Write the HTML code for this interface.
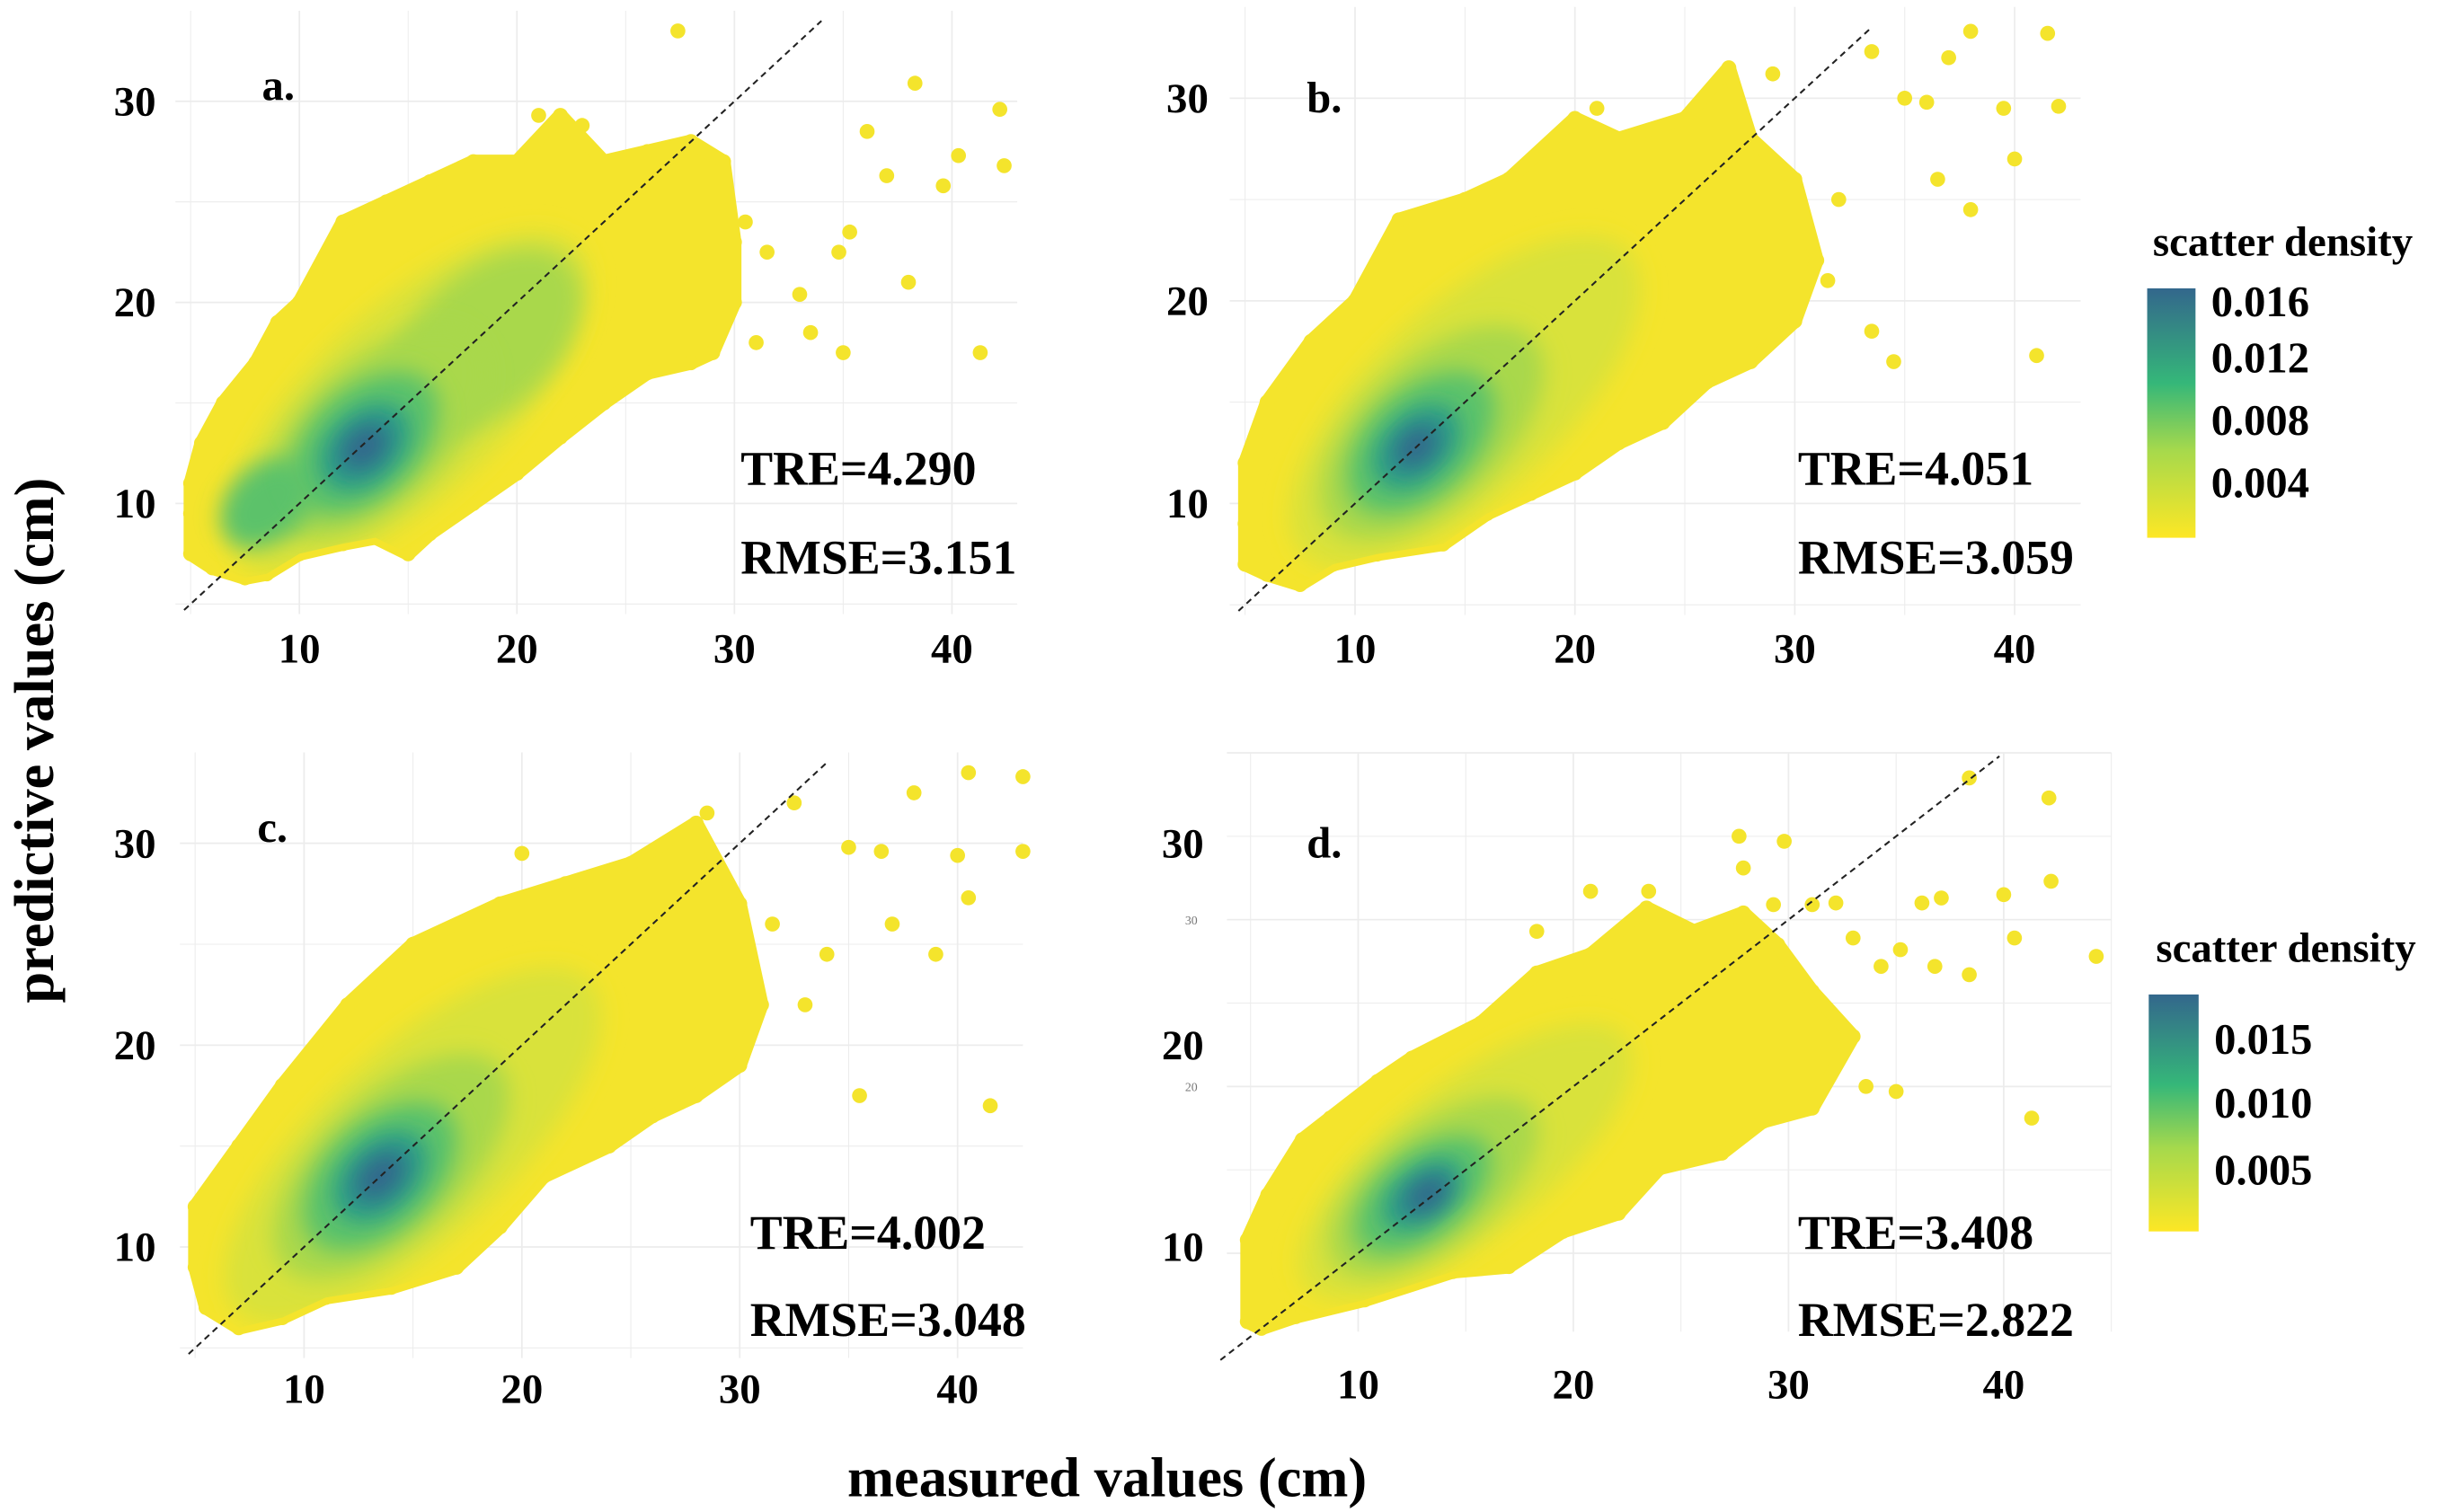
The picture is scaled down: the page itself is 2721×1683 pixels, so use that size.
<!DOCTYPE html>
<html><head><meta charset="utf-8"><style>
html,body{margin:0;padding:0;background:#fff;}
svg{display:block;font-family:"Liberation Serif",serif;font-weight:bold;}
</style></head><body>
<svg id="fig" xmlns="http://www.w3.org/2000/svg" width="2721" height="1683" viewBox="0 0 1568 970" preserveAspectRatio="none">
<defs>
<filter id="blur" x="-50%" y="-50%" width="200%" height="200%"><feGaussianBlur stdDeviation="7"/></filter>
<linearGradient id="cbar" x1="0" y1="1" x2="0" y2="0">
<stop offset="0" stop-color="#fde725"/><stop offset="0.35" stop-color="#a6d94c"/><stop offset="0.62" stop-color="#35b779"/><stop offset="1" stop-color="#33678c"/>
</linearGradient>
</defs>
<g id="panels"></g>
<text transform="translate(34,475) rotate(-90)" text-anchor="middle" font-size="36">predictive values (cm)</text>
<text x="710" y="960" text-anchor="middle" font-size="36">measured values (cm)</text>
<g>
<text x="1464" y="164" text-anchor="middle" font-size="27">scatter density</text>
<rect x="1377" y="185" width="31" height="160" fill="url(#cbar)"/>
<text x="1418" y="203" font-size="28">0.016</text>
<text x="1418" y="239" font-size="28">0.012</text>
<text x="1418" y="279" font-size="28">0.008</text>
<text x="1418" y="319" font-size="28">0.004</text>
</g>
<g>
<text x="1466" y="617" text-anchor="middle" font-size="27">scatter density</text>
<rect x="1378" y="638" width="32" height="152" fill="url(#cbar)"/>
<text x="1420" y="676" font-size="28">0.015</text>
<text x="1420" y="717" font-size="28">0.010</text>
<text x="1420" y="760" font-size="28">0.005</text>
</g>
</svg>
<script>
// ---- data (measured, predictive) ----
const xTicks = [10, 20, 30, 40];
const yTicks = [10, 20, 30];
const densityColors = ['#d9e23a', '#a9d84c', '#5cc26a', '#2a9b88', '#33678c'];
const statsA = ['TRE=4.290', 'RMSE=3.151'];
const statsB = ['TRE=4.051', 'RMSE=3.059'];
const statsC = ['TRE=4.002', 'RMSE=3.048'];
const statsD = ['TRE=3.408', 'RMSE=2.822'];

const envA = [[5,9.5],[5,7.5],[6,6.8],[7.5,6.3],[8.5,6.5],[10,7.5],[12,8],[13.5,8.3],[15,7.5],[16,8.5],[18,10],[20,11.5],[22,13.3],[24,15],[26,16.5],[28,17],[29,17.5],[30,20],[30,23],[29.5,27],[28,28],[26,27.5],[24,27],[22,29.3],[20,27],[18,27],[16,26],[14,25],[12,24],[10,20],[9,19],[8,17],[6.5,15],[5.5,13],[5,11]];
const envB = [[5,9],[5,7],[6,6.5],[7.5,6],[9,7],[11,7.5],[14,8],[16,9.5],[18,10.5],[20,11.5],[22,13],[24,14],[26,16],[28,17],[30,19],[31,22],[30,26],[28,28],[27,31.5],[25,29],[22,28],[20,29],[17,26],[15,25],[12,24],[10,20],[8,18],[6,15],[5,12]];
const envC = [[5,9],[5.5,7],[7,6],[9,6.5],[11,7.5],[14,8],[17,9],[19,11],[21,13.5],[24,15],[26,16.5],[28,17.5],[30,19],[31,22],[30,27],[28,31],[25,29],[22,28],[19,27],[15,25],[12,22],[9,18],[7,15],[5,12]];
const envD = [[4.85,5.9],[5.5,5.5],[7.1,6.2],[10.3,7.2],[14.4,8.9],[17,9.2],[19.5,11.3],[22.1,12.4],[24,15.1],[26.9,16],[28.8,17.9],[31.1,18.7],[33,23],[31.1,25.7],[29.5,28.5],[27.9,30.4],[25.6,29.3],[23.4,30.7],[20.8,27.9],[18.3,26.8],[15.7,23.8],[12.5,21.7],[10.9,20.3],[8.7,18.1],[7.4,16.8],[5.8,13.5],[4.85,10.8]];

// density layers: [centerX, centerY, halfLengthAlongDiagonal, halfWidth, level]
const densA = [[15,15,11,4.5,0],[18.5,18,5.5,3.3,1],[13.5,13.5,6.5,3.4,1],[8.5,10,2.5,1.8,2],[13,13,4.2,2.6,2],[13,12.8,2.5,1.7,3],[13,12.8,1.3,0.9,4]];
const densB = [[15,15,10.5,4.5,0],[13.5,13.5,6.5,3.4,1],[13,13,4.2,2.5,2],[12.8,12.8,2.4,1.6,3],[12.8,12.8,1.2,0.8,4]];
const densC = [[15,15,11.5,4.5,0],[14,14,7,3.4,1],[13.5,13.5,4.4,2.6,2],[13.5,13.5,2.6,1.7,3],[13.5,13.5,1.4,0.9,4]];
const densD = [[15,15.5,10.5,4,0],[13.5,14,6.5,3.1,1],[13,13.5,4.2,2.2,2],[13,13.5,2.4,1.4,3],[13.2,13.5,1.3,0.8,4]];

const outA = [[27.4,33.5],[38.3,30.9],[42.2,29.6],[36.1,28.5],[40.3,27.3],[42.4,26.8],[37,26.3],[39.6,25.8],[35.3,23.5],[34.8,22.5],[38,21],[33,20.4],[41.3,17.5],[35,17.5],[31,18],[33.5,18.5],[21,29.3],[23,28.8],[30.5,24],[31.5,22.5]];
const outB = [[38,33.3],[41.5,33.2],[37,32],[33.5,32.3],[35,30],[36,29.8],[39.5,29.5],[42,29.6],[40,27],[36.5,26],[38,24.5],[34.5,17],[41,17.3],[33.5,18.5],[29,31.2],[21,29.5],[32,25],[31.5,21]];
const outC = [[40.5,33.5],[38,32.5],[43,33.3],[35,29.8],[36.5,29.6],[40,29.4],[43,29.6],[37,26],[39,24.5],[40.5,27.3],[35.5,17.5],[41.5,17],[33,22],[34,24.5],[32.5,32],[28.5,31.5],[20,29.5],[31.5,26]];
const outD = [[38.4,38.5],[42.1,37.3],[42.2,32.3],[40,31.5],[40.5,28.9],[44.3,27.8],[38.4,26.7],[41.3,18.1],[37.1,31.3],[36.2,31],[35.2,28.2],[34.3,27.2],[36.8,27.2],[33.6,20],[35,19.7],[27.7,35],[29.8,34.7],[27.9,33.1],[20.8,31.7],[23.5,31.7],[18.3,29.3],[33,28.9],[32.2,31],[31.1,30.9],[29.3,30.9]];

const NS = 'http://www.w3.org/2000/svg';
const root = document.getElementById('panels');
function mk(tag, attrs, parent) {
  const e = document.createElementNS(NS, tag);
  for (const k in attrs) e.setAttribute(k, attrs[k]);
  parent.appendChild(e);
  return e;
}

const panels = [
  {id:'a', x10:192, sx:13.95, y10:323, sy:12.9, xr:[4.3,43], yr:[4.5,34.5], env:envA, dens:densA, out:outA, stats:statsA, label:[168,64], statX:475, statY:[311,368], xlabY:425, ylabX:100, diag:[4.7,34]},
  {id:'b', x10:869, sx:14.1, y10:323, sy:13.0, xr:[4.3,43], yr:[4.5,34.5], env:envB, dens:densB, out:outB, stats:statsB, label:[838,72], statX:1153, statY:[311,368], xlabY:425, ylabX:775, diag:[4.7,33.5]},
  {id:'c', x10:195, sx:13.97, y10:800, sy:12.95, xr:[4.3,43], yr:[4.5,34.5], env:envC, dens:densC, out:outC, stats:statsC, label:[165,540], statX:481, statY:[801,857], xlabY:900, ylabX:100, diag:[4.7,34]},
  {id:'d', x10:871, sx:13.8, y10:804, sy:10.7, xr:[3.9,45], yr:[5.3,40], env:envD, dens:densD, out:outD, stats:statsD, label:[838,550], statX:1153, statY:[801,857], xlabY:897, ylabX:772, diag:[3.6,39.8]}
];

panels.forEach(p => {
  const X = v => p.x10 + (v - 10) * p.sx;
  const Y = v => p.y10 - (v - 10) * p.sy;
  const g = mk('g', {}, root);
  
  
  for (let v = 5; v <= 45; v += 5) {
    if (v < p.xr[0] || v > p.xr[1]) continue;
    const l = mk('line', {x1:X(v), x2:X(v), y1:Y(p.yr[0]), y2:Y(p.yr[1]), stroke:'#ececec', 'stroke-width': v % 10 ? 0.6 : 1}, g);
    
    
  }
  for (let v = 5; v <= 40; v += 5) {
    if (v < p.yr[0] || v > p.yr[1]) continue;
    const l = mk('line', {x1:X(p.xr[0]), x2:X(p.xr[1]), y1:Y(v), y2:Y(v), stroke:'#ececec', 'stroke-width': v % 10 ? 0.6 : 1}, g);
    
    
  }
  const pts = p.env.map(d => X(d[0]) + ',' + Y(d[1])).join(' ');
  const cp = mk('clipPath', {id:'clip' + p.id}, g);
  mk('polygon', {points: pts}, cp);
  const env = mk('polygon', {points: pts, fill:'#f4e42c', stroke:'#f4e42c', 'stroke-width':9, 'stroke-linejoin':'round'}, g);
  
  
  p.env.forEach(d => {
    const c = mk('circle', {cx:X(d[0]), cy:Y(d[1]), r:4.8, fill:'#f4e42c'}, g);
    
    
  });
  const dg = mk('g', {'clip-path':'url(#clip' + p.id + ')'}, g);
  
  
  const ang = -Math.atan2(p.sy, p.sx) * 180 / Math.PI;
  const k = Math.sqrt(p.sx * p.sx + p.sy * p.sy) / Math.SQRT2;
  p.dens.forEach(d => {
    const e = mk('ellipse', {cx:X(d[0]), cy:Y(d[1]), rx:d[2] * k, ry:d[3] * k, fill:densityColors[d[4]], filter:'url(#blur)', transform:'rotate(' + ang + ' ' + X(d[0]) + ' ' + Y(d[1]) + ')'}, dg);
    
    
  });
  p.out.forEach(d => {
    const c = mk('circle', {cx:X(d[0]), cy:Y(d[1]), r:4.8, fill:'#f4e42c'}, g);
    
    
  });
  const ln = mk('line', {x1:X(p.diag[0]), y1:Y(p.diag[0]), x2:X(p.diag[1]), y2:Y(p.diag[1]), stroke:'#222', 'stroke-width':1.2, 'stroke-dasharray':'4,3'}, g);
  
  
  xTicks.forEach(v => {
    const t = mk('text', {x:X(v), y:p.xlabY, 'text-anchor':'middle', 'font-size':27}, g);
    t.textContent = v;
    
    
  });
  yTicks.forEach(v => {
    const yy = p.id === 'd' ? 800 - (v - 10) * 12.95 : Y(v);
    const t = mk('text', {x:p.ylabX, y:yy + 9, 'text-anchor':'end', 'font-size':27}, g);
    t.textContent = v;
    
    
  });
  const lab = mk('text', {x:p.label[0], y:p.label[1], 'font-size':28}, g);
  lab.textContent = p.id + '.';
  
  
  p.stats.forEach((s, i) => {
    const t = mk('text', {x:p.statX, y:p.statY[i], 'font-size':31}, g);
    t.textContent = s;
    
    
  });
});
[[30,590],[20,697]].forEach(d => {
  const t = mk('text', {x:768, y:d[1] + 3, 'text-anchor':'end', 'font-size':8, 'font-weight':'normal', fill:'#777'}, root);
  t.textContent = d[0];
  
  
});
</script>
</body></html>
